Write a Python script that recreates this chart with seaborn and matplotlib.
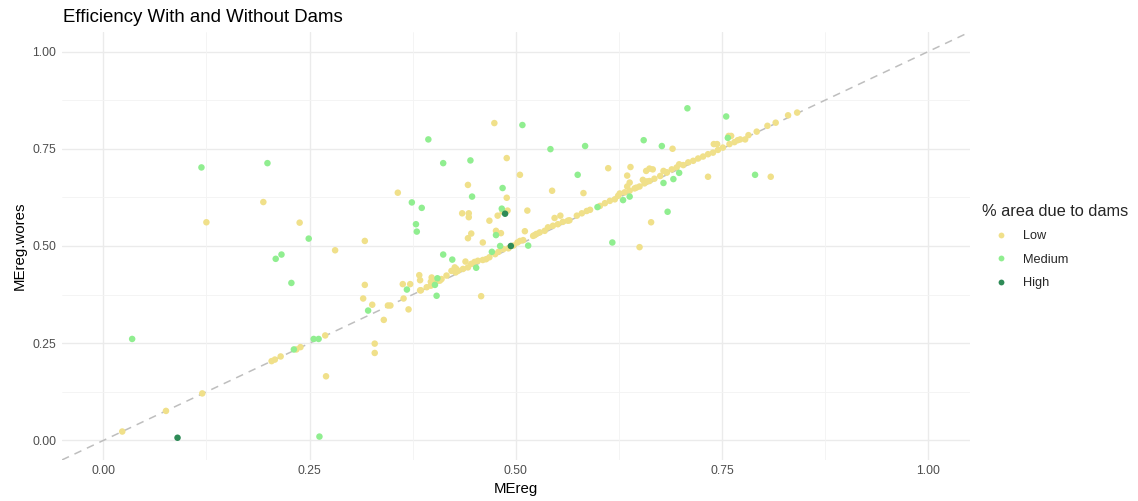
import numpy as np
import pandas as pd
import matplotlib
matplotlib.use("Agg")
import matplotlib.pyplot as plt
import seaborn as sns
from matplotlib.lines import Line2D

# ---------------- data ----------------
low_x = [0.194, 0.125, 0.238, 0.281, 0.023, 0.076, 0.120, 0.204, 0.208, 0.215,
         0.234, 0.239, 0.269, 0.270, 0.329, 0.329,
         0.474, 0.489, 0.505, 0.357, 0.442, 0.544, 0.489, 0.490, 0.514, 0.435,
         0.443, 0.443, 0.478, 0.468, 0.547, 0.317, 0.446, 0.442, 0.476, 0.482,
         0.460, 0.511, 0.439, 0.383, 0.384, 0.398, 0.397, 0.363, 0.372, 0.317,
         0.392, 0.385, 0.458, 0.315, 0.326, 0.340, 0.345, 0.348, 0.364, 0.370,
         0.384, 0.484,
         0.690, 0.758, 0.761, 0.740, 0.744, 0.612, 0.639, 0.635, 0.638, 0.635,
         0.658, 0.662, 0.666, 0.679, 0.683, 0.698, 0.733, 0.582, 0.664, 0.650,
         0.554, 0.565, 0.654, 0.659,
         0.809, 0.792, 0.805, 0.815, 0.830, 0.841, 0.772, 0.778, 0.782,
         0.397, 0.400, 0.408, 0.427, 0.406, 0.410, 0.416, 0.422, 0.426, 0.428,
         0.430, 0.436, 0.442, 0.446, 0.450, 0.454, 0.460, 0.464, 0.468, 0.475,
         0.479, 0.485, 0.491, 0.497, 0.502, 0.505, 0.509, 0.521, 0.525, 0.529,
         0.535, 0.523, 0.539, 0.545, 0.551, 0.557, 0.563, 0.574, 0.580, 0.586,
         0.590, 0.602, 0.608, 0.614, 0.620, 0.624, 0.626, 0.632, 0.638, 0.644,
         0.650, 0.656, 0.662, 0.646, 0.668, 0.675, 0.683, 0.689, 0.695, 0.703,
         0.709, 0.715, 0.721, 0.727, 0.733, 0.739, 0.745, 0.751, 0.759, 0.765,
         0.769]
low_y = [0.613, 0.561, 0.560, 0.489, 0.023, 0.076, 0.121, 0.204, 0.208, 0.216,
         0.234, 0.240, 0.270, 0.165, 0.249, 0.225,
         0.816, 0.726, 0.683, 0.637, 0.657, 0.642, 0.624, 0.591, 0.591, 0.584,
         0.584, 0.574, 0.578, 0.565, 0.572, 0.513, 0.532, 0.520, 0.539, 0.533,
         0.509, 0.538, 0.460, 0.425, 0.412, 0.419, 0.408, 0.402, 0.402, 0.400,
         0.394, 0.386, 0.371, 0.365, 0.349, 0.310, 0.347, 0.347, 0.365, 0.337,
         0.386, 0.588,
         0.750, 0.783, 0.783, 0.762, 0.762, 0.700, 0.703, 0.681, 0.663, 0.653,
         0.693, 0.699, 0.697, 0.693, 0.689, 0.710, 0.678, 0.636, 0.561, 0.497,
         0.578, 0.566, 0.670, 0.666,
         0.678, 0.794, 0.809, 0.817, 0.836, 0.843, 0.774, 0.774, 0.785,
         0.398, 0.407, 0.411, 0.432, 0.411, 0.415, 0.424, 0.436, 0.445, 0.441,
         0.436, 0.441, 0.445, 0.454, 0.459, 0.462, 0.464, 0.466, 0.471, 0.479,
         0.485, 0.492, 0.494, 0.501, 0.509, 0.513, 0.515, 0.526, 0.531, 0.535,
         0.539, 0.528, 0.548, 0.552, 0.556, 0.562, 0.565, 0.578, 0.584, 0.590,
         0.593, 0.603, 0.610, 0.616, 0.620, 0.629, 0.635, 0.638, 0.642, 0.648,
         0.653, 0.661, 0.667, 0.650, 0.673, 0.680, 0.689, 0.697, 0.702, 0.708,
         0.715, 0.719, 0.725, 0.730, 0.736, 0.740, 0.747, 0.753, 0.762, 0.767,
         0.772]

med_x = [0.119, 0.199, 0.249, 0.216, 0.209, 0.035, 0.228, 0.231, 0.255, 0.261,
         0.262, 0.508, 0.394, 0.542, 0.412, 0.445, 0.484, 0.447, 0.374, 0.386,
         0.483, 0.379, 0.380, 0.476, 0.481, 0.515, 0.412, 0.423, 0.452, 0.405,
         0.402, 0.368, 0.404, 0.321, 0.471,
         0.708, 0.755, 0.584, 0.655, 0.677, 0.757, 0.575, 0.679, 0.691, 0.698,
         0.630, 0.638, 0.599, 0.684, 0.617, 0.790]
med_y = [0.702, 0.713, 0.519, 0.478, 0.467, 0.261, 0.405, 0.234, 0.261, 0.261,
         0.010, 0.811, 0.774, 0.749, 0.713, 0.720, 0.649, 0.627, 0.612, 0.598,
         0.596, 0.556, 0.537, 0.528, 0.500, 0.501, 0.478, 0.465, 0.444, 0.417,
         0.400, 0.388, 0.372, 0.334, 0.485,
         0.854, 0.833, 0.757, 0.772, 0.757, 0.778, 0.683, 0.662, 0.672, 0.688,
         0.618, 0.627, 0.600, 0.588, 0.509, 0.683]

high_x = [0.090, 0.487, 0.494]
high_y = [0.007, 0.583, 0.500]

categories = ["Low", "Medium", "High"]
palette = {"Low": "#F0E08A", "Medium": "#90EE90", "High": "#2E8B57"}

df = pd.DataFrame({
    "MEreg": low_x + med_x + high_x,
    "MEreg.wores": low_y + med_y + high_y,
    "dams": (["Low"] * len(low_x)) + (["Medium"] * len(med_x)) + (["High"] * len(high_x)),
})

# ---------------- plot ----------------
sns.set_theme(style="white")
plt.rcParams["font.family"] = ["Liberation Sans", "DejaVu Sans"]

fig = plt.figure(figsize=(11.38, 5.01), dpi=100)
ax = fig.add_axes([0.0545, 0.082, 0.7975, 0.854])

lims = (-0.05, 1.05)
ax.set_xlim(lims)
ax.set_ylim(lims)

major = [0, 0.25, 0.5, 0.75, 1.0]
minor = [0.125, 0.375, 0.625, 0.875]
for v in major:
    ax.axvline(v, color="#EBEBEB", lw=1.0, zorder=0)
    ax.axhline(v, color="#EBEBEB", lw=1.0, zorder=0)
for v in minor:
    ax.axvline(v, color="#F3F3F3", lw=0.6, zorder=0)
    ax.axhline(v, color="#F3F3F3", lw=0.6, zorder=0)

ax.axline((0, 0), slope=1, color="#BEBEBE", lw=1.1, ls=(0, (5, 4)), zorder=1)

sns.scatterplot(data=df, x="MEreg", y="MEreg.wores", hue="dams",
                hue_order=categories, palette=palette, s=22, linewidth=0,
                ax=ax, legend=False, zorder=2)

ax.set_xticks(major)
ax.set_yticks(major)
ax.set_xticklabels(["0.00", "0.25", "0.50", "0.75", "1.00"])
ax.set_yticklabels(["0.00", "0.25", "0.50", "0.75", "1.00"])
ax.tick_params(axis="both", length=0, labelsize=8.7, labelcolor="#4D4D4D", pad=4)
for s in ax.spines.values():
    s.set_visible(False)

ax.set_xlabel("MEreg", fontsize=10.8, color="black", labelpad=3)
ax.set_ylabel("MEreg.wores", fontsize=10.8, color="black", labelpad=4)

fig.text(0.0555, 0.965, "Efficiency With and Without Dams", fontsize=13.4,
         color="black", ha="left", va="center")

handles = [Line2D([0], [0], marker="o", ls="", markersize=4.2,
                  markerfacecolor=palette[c], markeredgewidth=0, label=c)
           for c in categories]
leg = fig.legend(handles=handles, title="% area due to dams",
                 loc="upper left", bbox_to_anchor=(0.858, 0.603),
                 frameon=False, fontsize=9.2, title_fontsize=11.8,
                 handlelength=3.0, handletextpad=0.25, labelspacing=0.9,
                 borderaxespad=0)
leg._legend_box.align = "left"
leg._legend_box.sep = 8

fig.savefig("out.png", dpi=100, facecolor="white")
